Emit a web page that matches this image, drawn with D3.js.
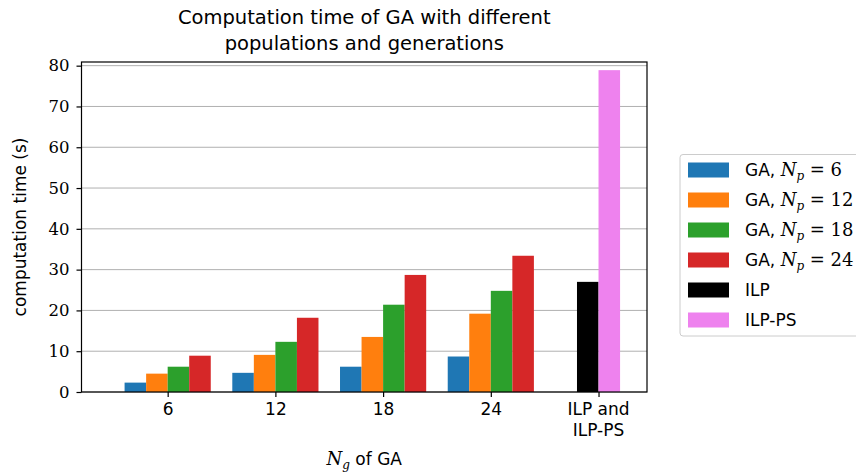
<!DOCTYPE html>
<html><head><meta charset="utf-8">
<script src="https://cdn.jsdelivr.net/npm/d3@7"></script>
<style>body{margin:0;background:#fff}svg{display:block}</style>
</head><body><svg id="c" width="856" height="476"></svg>
<script>
const categories = ["6","12","18","24"];
const popLabels = ["6","12","18","24"];
const gaP6  = [2.3, 4.7, 6.2, 8.7];
const gaP12 = [4.5, 9.1, 13.5, 19.2];
const gaP18 = [6.2, 12.3, 21.4, 24.8];
const gaP24 = [8.9, 18.2, 28.7, 33.4];
const ilp = 27.0;
const ilpPs = 78.9;
const yTicks = [0,10,20,30,40,50,60,70,80];
const colors = ["#1f77b4","#ff7f0e","#2ca02c","#d62728","#000000","#ee82ee"];

const svg = d3.select("#c");
const L=81.5, R=647, T=62, B=392;
const x = d3.scaleLinear().domain([-0.8, 4.45]).range([L, R]);
const y = d3.scaleLinear().domain([0, 80.9]).range([B, T]);
const bw = x(0.2)-x(0);
const sans = "'DejaVu Sans', sans-serif";
const serif = "'DejaVu Serif', serif";

// grid
svg.append("g").selectAll("line").data(yTicks).join("line")
  .attr("x1",L).attr("x2",R).attr("y1",d=>y(d)).attr("y2",d=>y(d))
  .attr("stroke","#b0b0b0").attr("stroke-width",1);

const series=[gaP6,gaP12,gaP18,gaP24];
series.forEach((s,k)=>{
  svg.append("g").selectAll("rect").data(s).join("rect")
    .attr("x",(d,i)=>x(i+(k-2)*0.2)).attr("width",bw)
    .attr("y",d=>y(d)).attr("height",d=>B-y(d)).attr("fill",colors[k]);
});
[ilp, ilpPs].forEach((v,k)=>{
  svg.append("rect").attr("x",x(4+(k-1)*0.2)).attr("width",bw)
    .attr("y",y(v)).attr("height",B-y(v)).attr("fill",colors[4+k]);
});

// frame
svg.append("rect").attr("x",L).attr("y",T).attr("width",R-L).attr("height",B-T)
  .attr("fill","none").attr("stroke","#000").attr("stroke-width",1.2);

// y axis
const ya = svg.append("g").attr("transform",`translate(${L},0)`)
  .call(d3.axisLeft(y).tickValues(yTicks).tickSize(5).tickPadding(7));
ya.select(".domain").remove();
ya.selectAll("line").attr("stroke-width",1.2);
ya.selectAll("text").attr("font-family",serif).attr("font-size",16.5).attr("fill","#000");

// x axis
const xt=[0,1,2,3,4];
const xa = svg.append("g").attr("transform",`translate(0,${B})`)
  .call(d3.axisBottom(x).tickValues(xt).tickSize(5).tickPadding(6).tickFormat(d=>d<4?categories[d]:""));
xa.select(".domain").remove();
xa.selectAll("line").attr("stroke-width",1.2);
xa.selectAll("text").attr("font-family",sans).attr("font-size",17).attr("fill","#000");
const ilpLab = svg.append("text").attr("x",x(4)).attr("y",B+23).attr("text-anchor","middle")
  .attr("font-family",sans).attr("font-size",17);
ilpLab.append("tspan").attr("x",x(4)).attr("dy",0).text("ILP and");
ilpLab.append("tspan").attr("x",x(4)).attr("dy",21).text("ILP-PS");

// title
const tt = svg.append("text").attr("text-anchor","middle").attr("font-family",sans).attr("font-size",19.5);
tt.append("tspan").attr("x",(L+R)/2).attr("y",24).text("Computation time of GA with different");
tt.append("tspan").attr("x",(L+R)/2).attr("y",50).text("populations and generations");

// y label
svg.append("text").attr("transform",`translate(26,${(T+B)/2}) rotate(-90)`).attr("text-anchor","middle")
  .attr("font-family",sans).attr("font-size",17).text("computation time (s)");

// x label
const xl = svg.append("text").attr("x",(L+R)/2).attr("y",465).attr("text-anchor","middle")
  .attr("font-family",sans).attr("font-size",17);
xl.append("tspan").attr("font-family",serif).attr("font-style","italic").attr("font-size",18).text("N");
xl.append("tspan").attr("font-family",serif).attr("font-style","italic").attr("font-size",12).attr("dy",4).text("g");
xl.append("tspan").attr("dy",-4).text(" of GA");

// legend
const lg = svg.append("g");
lg.append("rect").attr("x",680).attr("y",154.5).attr("width",190).attr("height",181.5).attr("rx",3)
  .attr("fill","#fff").attr("stroke","#cccccc").attr("stroke-width",1);
const legLabels = ["GA","GA","GA","GA","ILP","ILP-PS"];
legLabels.forEach((t,i)=>{
  const cy = 170+i*30;
  lg.append("rect").attr("x",688).attr("y",cy-7.5).attr("width",41).attr("height",15).attr("fill",colors[i]);
  const tx = lg.append("text").attr("x",745).attr("y",cy+6).attr("font-family",sans).attr("font-size",17);
  if(i<4){
    tx.append("tspan").text("GA, ");
    tx.append("tspan").attr("font-family",serif).attr("font-style","italic").attr("font-size",18).text("N");
    tx.append("tspan").attr("font-family",serif).attr("font-style","italic").attr("font-size",12).attr("dy",4).text("p");
    tx.append("tspan").attr("font-family",serif).attr("dy",-4).attr("font-size",18).text(" = "+popLabels[i]);
  } else tx.text(t);
});
</script></body></html>
